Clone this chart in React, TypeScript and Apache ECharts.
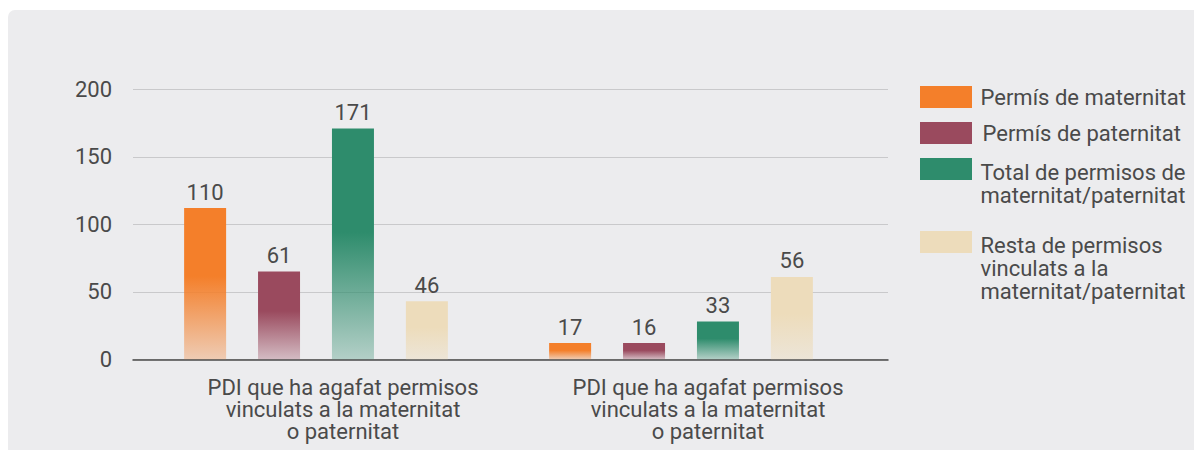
import React, { useEffect, useRef } from "react";
import * as echarts from "echarts";

const categories = [
  "PDI que ha agafat permisos\nvinculats a la maternitat\no paternitat",
  "PDI que ha agafat permisos\nvinculats a la maternitat\no paternitat",
];
const seriesNames = [
  "Permís de maternitat",
  "Permís de paternitat",
  "Total de permisos de\nmaternitat/paternitat",
  "Resta de permisos\nvinculats a la\nmaternitat/paternitat",
];
// bar heights as drawn
const maternitatValues = [112, 12];
const paternitatValues = [65, 12];
const totalValues = [171, 28];
const restaValues = [43, 61];
// printed labels
const maternitatLabels = ["110", "17"];
const paternitatLabels = ["61", "16"];
const totalLabels = ["171", "33"];
const restaLabels = ["46", "56"];

const yMin = 0;
const yMax = 200;
const yInterval = 50;

const colors = ["#f47f2a", "#9a4a5e", "#2e8c6c", "#eddcbb"];

const TEXT = "#4a4a4a";
const FONT = "Roboto";

function hexToRgba(hex: string, a: number) {
  const n = parseInt(hex.slice(1), 16);
  return `rgba(${(n >> 16) & 255},${(n >> 8) & 255},${n & 255},${a})`;
}

export default function App() {
  const ref = useRef<HTMLDivElement>(null);
  useEffect(() => {
    document.documentElement.style.overflow = "hidden";
    document.body.style.overflow = "hidden";
    const chart = echarts.init(ref.current!, undefined, { renderer: "svg" });
    const values = [maternitatValues, paternitatValues, totalValues, restaValues];
    const labels = [maternitatLabels, paternitatLabels, totalLabels, restaLabels];
    const legendTops = [75.5, 111.5, 121.5, 171.5];
    const legendPads = [3.5, 5.5, 3.5, 3.5];
    const spacer = [0, 0, 29, 52];
    const series = seriesNames.map((name, i) => ({
      name,
      type: "bar",
      xAxisIndex: 0,
      yAxisIndex: 0,
      barWidth: 42,
      barGap: "76%",
      data: values[i],
      itemStyle: {
        color: new echarts.graphic.LinearGradient(0, 0, 0, 1, [
          { offset: 0, color: colors[i] },
          { offset: 0.45, color: colors[i] },
          { offset: 1, color: hexToRgba(colors[i], i === 3 ? 0.45 : 0.3) },
        ]),
      },
      label: {
        show: true,
        position: "top",
        distance: 5,
        color: TEXT,
        fontSize: 22,
        fontFamily: FONT,
        formatter: (p: any) => labels[i][p.dataIndex],
      },
    }));
    chart.setOption({
      animation: false,
      backgroundColor: "transparent",
      textStyle: { fontFamily: FONT },
      grid: [
        { left: 125.5, width: 730, top: 79.3, height: 270 },
        { left: 125, width: 755, top: 79.3, height: 270 },
      ],
      xAxis: [
        {
          type: "category",
          gridIndex: 0,
          data: categories,
          axisLine: { show: false },
          axisTick: { show: false },
          axisLabel: {
            show: true,
            color: TEXT,
            fontSize: 22,
            fontFamily: FONT,
            lineHeight: 22,
            margin: 17.5,
            padding: [0, 0, 0, 54],
            interval: 0,
          },
        },
        {
          type: "category",
          gridIndex: 1,
          data: ["a", "b"],
          axisLine: { show: true, lineStyle: { color: "#4a4a4a", width: 1.5 } },
          axisTick: { show: false },
          axisLabel: { show: false },
        },
      ],
      yAxis: [
        {
          type: "value",
          gridIndex: 0,
          min: yMin,
          max: yMax,
          interval: yInterval,
          show: false,
          splitLine: { show: false },
        },
        {
          type: "value",
          gridIndex: 1,
          min: yMin,
          max: yMax,
          interval: yInterval,
          axisLine: { show: false },
          axisTick: { show: false },
          axisLabel: { color: TEXT, fontSize: 22, fontFamily: FONT, margin: 21 },
          splitLine: { show: true, lineStyle: { color: "#c9c9cb", width: 1 } },
        },
      ],
      legend: seriesNames.map((name, i) => ({
        orient: "vertical",
        left: 912,
        top: legendTops[i],
        padding: 0,
        itemWidth: 52,
        itemHeight: 22,
        icon: "rect",
        selectedMode: false,
        formatter: spacer[i] > 0 ? (n: string) => "{s| }\n" + n : undefined,
        textStyle: {
          color: TEXT,
          fontSize: 22,
          fontFamily: FONT,
          lineHeight: 23,
          rich: { s: { fontSize: 2, lineHeight: spacer[i] || 1 } },
        },
        data: [
          {
            name,
            itemStyle: { color: colors[i] },
            textStyle: { padding: [0, 0, 0, legendPads[i]] },
          },
        ],
      })),
      series,
    });
    return () => chart.dispose();
  }, []);
  return (
    <div
      ref={ref}
      style={{
        width: 1194,
        height: 440,
        marginTop: 2,
        background: "#ececee",
        borderTopLeftRadius: 7,
      }}
    />
  );
}
